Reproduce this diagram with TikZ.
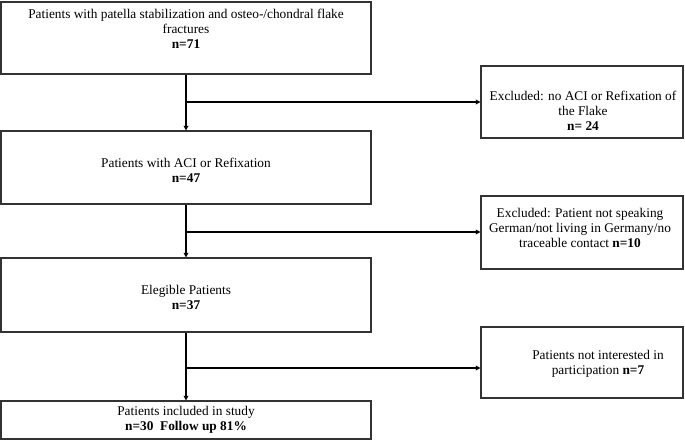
\documentclass[tikz,border=0pt]{standalone}
\usepackage{fontspec}
\setmainfont{Liberation Serif}
\usetikzlibrary{arrows.meta}
\begin{document}
\begin{tikzpicture}[x=0.75pt,y=-0.75pt,
  box/.style 2 args={draw=black!80,line width=0.8pt,inner sep=0pt,
    minimum width=#1*0.75pt,minimum height=#2*0.75pt},
  txt/.style={align=center,inner sep=0pt,font=\fontsize{10pt}{11.2pt}\selectfont},
  conn/.style={line width=1.2pt,black},
  arr/.style={conn,-{Triangle[length=3.5pt,width=3.5pt]}}]
\fill[white] (0,0) rectangle (685,440);
\useasboundingbox (0,0) rectangle (685,440);
% boxes
\node[box={370}{72}] (b1) at (186,38) {};
\node[box={370}{73}] (b3) at (186,167.5) {};
\node[box={370}{74}] (b5) at (186,295) {};
\node[box={370}{38}] (b7) at (186,420) {};
\node[box={202}{72}] (b2) at (582,102) {};
\node[box={202}{73}] (b4) at (582,232.5) {};
\node[box={202}{71}] (b6) at (582,362.5) {};
% texts
\node[txt] (t1) at (186,29) {Patients with patella stabilization and osteo-/chondral flake\\fractures\\\textbf{n=71}};
\node[txt] (t3) at (186,170) {Patients with ACI or Refixation\\\textbf{n=47}};
\node[txt] (t5) at (186,297) {Elegible Patients\\\textbf{n=37}};
\node[txt] (t7) at (186,420) {Patients included in study\\\textbf{n=30\ \ Follow up 81\%}};
\node[txt] (t2) at (583,111) {Excluded: no ACI or Refixation of\\the Flake\\\textbf{n= 24}};
\node[txt] (t4) at (580,228) {Excluded: Patient not speaking\\German/not living in Germany/no\\traceable contact \textbf{n=10}};
\node[txt] (t6) at (598,364) {Patients not interested in\\participation \textbf{n=7}};
% junctions
\coordinate (j1) at (186,102);
\coordinate (j2) at (186,232);
\coordinate (j3) at (186,368);
% connectors
\draw[arr] (b1.south) -- (b3.north);
\draw[arr] (b3.south) -- (b5.north);
\draw[arr] (b5.south) -- (b7.north);
\draw[arr] (j1) -- (j1 -| b2.west);
\draw[arr] (j2) -- (j2 -| b4.west);
\draw[arr] (j3) -- (j3 -| b6.west);
\end{tikzpicture}
\end{document}
